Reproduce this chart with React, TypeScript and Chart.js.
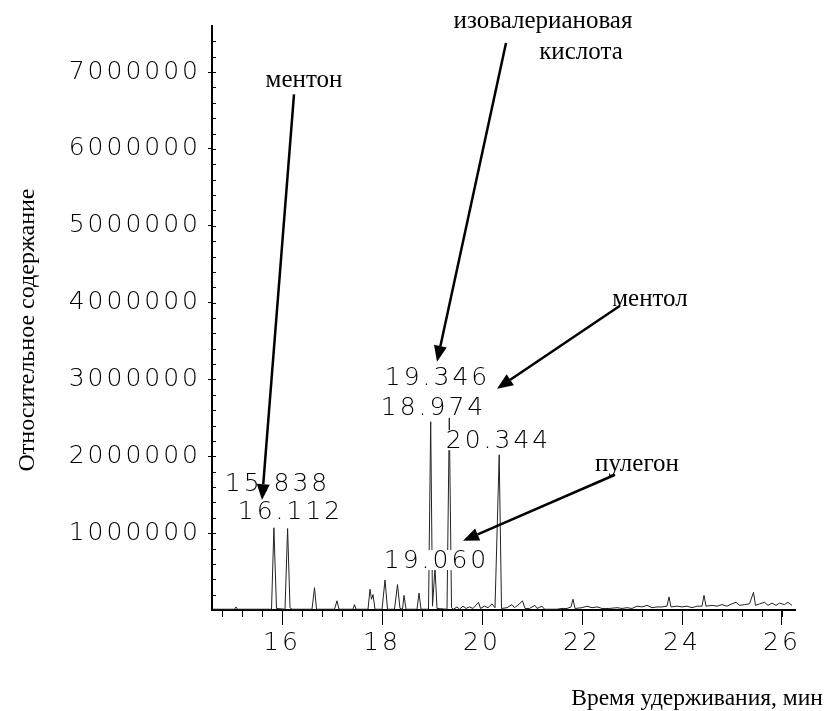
import React, { useEffect, useRef } from 'react';
import { Chart, registerables } from 'chart.js';

Chart.register(...registerables);

// Chromatogram trace: retention time (min) and abundance
const retentionTime = [
  14.62, 15.05, 15.08, 15.11, 15.79, 15.838, 15.89, 16.06, 16.112, 16.16, 16.2,
  16.6, 16.65, 16.69, 17.05, 17.1, 17.14, 17.42, 17.45, 17.48,
  17.72, 17.76, 17.79, 17.82, 17.86, 18.0, 18.06, 18.11,
  18.25, 18.31, 18.36, 18.41, 18.44, 18.48, 18.7, 18.74, 18.78,
  18.93, 18.974, 19.01, 19.06, 19.1, 19.3, 19.346, 19.39, 19.43,
  19.5, 19.55, 19.62, 19.68, 19.75, 19.82, 19.93, 19.97, 20.05, 20.12, 20.2, 20.26,
  20.344, 20.39, 20.5, 20.6, 20.65, 20.75, 20.81, 20.86, 20.95, 21.06, 21.1, 21.2, 21.25,
  21.5, 21.6, 21.7, 21.78, 21.82, 21.86, 22.0, 22.1, 22.2, 22.3, 22.4, 22.55, 22.7, 22.8,
  22.9, 23.0, 23.1, 23.2, 23.3, 23.4, 23.5, 23.6, 23.7, 23.74, 23.78, 23.9, 24.0, 24.1,
  24.2, 24.3, 24.4, 24.44, 24.48, 24.6, 24.7, 24.8, 24.9, 25.0, 25.08, 25.15, 25.25,
  25.35, 25.43, 25.47, 25.55, 25.65, 25.72, 25.8, 25.88, 25.95, 26.05, 26.12, 26.2,
];
const abundance = [
  10000, 10000, 40000, 10000, 10000, 1070000, 20000, 10000, 1060000, 30000, 10000,
  10000, 290000, 10000, 10000, 120000, 10000, 10000, 70000, 10000,
  10000, 270000, 140000, 200000, 10000, 10000, 390000, 10000,
  10000, 330000, 20000, 10000, 190000, 10000, 10000, 220000, 10000,
  10000, 2450000, 50000, 550000, 20000, 10000, 2500000, 30000, 10000,
  40000, 10000, 50000, 20000, 40000, 20000, 100000, 20000, 50000, 30000, 80000, 30000,
  2020000, 20000, 30000, 70000, 30000, 80000, 120000, 20000, 20000, 60000, 20000, 50000, 10000,
  10000, 20000, 20000, 40000, 140000, 20000, 30000, 50000, 30000, 40000, 20000, 20000, 30000, 20000,
  30000, 20000, 50000, 40000, 60000, 30000, 40000, 40000, 50000, 170000, 40000, 50000, 40000, 50000,
  30000, 50000, 50000, 190000, 50000, 60000, 50000, 70000, 50000, 80000, 100000, 60000, 70000,
  80000, 230000, 60000, 80000, 100000, 60000, 90000, 60000, 90000, 70000, 100000, 60000,
];

const xTickValues = [16, 18, 20, 22, 24, 26];
const yTickValues = [1000000, 2000000, 3000000, 4000000, 5000000, 6000000, 7000000];

const xAxisTitle = 'Время удерживания, мин';
const yAxisTitle = 'Относительное содержание';

// Peak retention-time labels
const peakLabels = ['15.838', '16.112', '19.346', '18.974', '20.344', '19.060'];
const peakLabelTime = [15.88, 16.14, 19.08, 19.0, 20.3, 19.06];
const peakLabelLevel = [1650000, 1280000, 3020000, 2640000, 2210000, 650000];

// Compound names
const compoundNames = ['ментон', 'изовалериановая', 'кислота', 'ментол', 'пулегон'];
const compoundTime = [16.44, 21.22, 21.98, 23.36, 23.1];
const compoundLevel = [6810000, 7570000, 7170000, 3950000, 1810000];

// Arrows from names to peaks
const arrowFromTime = [16.24, 20.48, 22.76, 22.66];
const arrowFromLevel = [6710000, 7380000, 3960000, 1760000];
const arrowToTime = [15.6, 19.1, 20.3, 19.62];
const arrowToLevel = [1430000, 3230000, 2880000, 900000];

const TICK_FONT = '200 25px "DejaVu Sans"';
const SERIF_FONT = '25px "Liberation Serif"';
const TITLE_FONT = '23.5px "Liberation Serif"';

const overlayPlugin = {
  id: 'overlay',
  beforeDraw(chart: any) {
    (chart.ctx as any).letterSpacing = '3px';
  },
  afterDatasetsDraw(chart: any) {
    const ctx = chart.ctx as any;
    const xs = chart.scales.x;
    const ys = chart.scales.y;
    const area = chart.chartArea;
    ctx.save();
    // minor ticks
    ctx.strokeStyle = '#000';
    ctx.lineWidth = 1;
    ctx.beginPath();
    for (let v = 200000; v < ys.max; v += 200000) {
      const py = Math.round(ys.getPixelForValue(v)) + 0.5;
      ctx.moveTo(area.left, py);
      ctx.lineTo(area.left + 4, py);
    }
    for (let k = Math.ceil(xs.min / 0.4); k * 0.4 <= xs.max; k++) {
      const v = k * 0.4;
      const px = Math.round(xs.getPixelForValue(v)) + 0.5;
      ctx.moveTo(px, area.bottom);
      ctx.lineTo(px, area.bottom + 7);
    }
    ctx.stroke();

    // peak labels with white background
    ctx.letterSpacing = '3px';
    ctx.font = TICK_FONT;
    ctx.textAlign = 'center';
    ctx.textBaseline = 'middle';
    peakLabels.forEach((t, i) => {
      const px = xs.getPixelForValue(peakLabelTime[i]);
      const py = ys.getPixelForValue(peakLabelLevel[i]);
      const w = ctx.measureText(t).width;
      ctx.fillStyle = '#fff';
      ctx.fillRect(px - w / 2, py - 10, w, 20);
      ctx.fillStyle = '#000';
      ctx.fillText(t, px + 1.5, py + 1);
    });

    // compound names
    ctx.letterSpacing = '0px';
    ctx.font = SERIF_FONT;
    ctx.textBaseline = 'alphabetic';
    ctx.fillStyle = '#000';
    compoundNames.forEach((t, i) => {
      ctx.fillText(t, xs.getPixelForValue(compoundTime[i]), ys.getPixelForValue(compoundLevel[i]));
    });

    // arrows
    ctx.lineWidth = 2.5;
    arrowFromTime.forEach((_, i) => {
      const x1 = xs.getPixelForValue(arrowFromTime[i]);
      const y1 = ys.getPixelForValue(arrowFromLevel[i]);
      const x2 = xs.getPixelForValue(arrowToTime[i]);
      const y2 = ys.getPixelForValue(arrowToLevel[i]);
      const ang = Math.atan2(y2 - y1, x2 - x1);
      const hl = 16;
      const hw = 6.5;
      const bx = x2 - hl * Math.cos(ang);
      const by = y2 - hl * Math.sin(ang);
      ctx.beginPath();
      ctx.moveTo(x1, y1);
      ctx.lineTo(bx, by);
      ctx.stroke();
      ctx.beginPath();
      ctx.moveTo(x2, y2);
      ctx.lineTo(bx + hw * Math.sin(ang), by - hw * Math.cos(ang));
      ctx.lineTo(bx - hw * Math.sin(ang), by + hw * Math.cos(ang));
      ctx.closePath();
      ctx.fill();
    });

    // axis titles
    ctx.font = TITLE_FONT;
    ctx.textAlign = 'center';
    ctx.fillText(xAxisTitle, 697, 705);
    ctx.font = '24px "Liberation Serif"';
    ctx.translate(34, 330);
    ctx.rotate(-Math.PI / 2);
    ctx.fillText(yAxisTitle, 0, 0);
    ctx.restore();
  },
};

export default function App() {
  const canvasRef = useRef<HTMLCanvasElement | null>(null);

  useEffect(() => {
    if (!canvasRef.current) return;
    const points = retentionTime.map((t, i) => ({ x: t, y: abundance[i] }));
    const chart = new Chart(canvasRef.current, {
      type: 'line',
      data: {
        datasets: [
          {
            data: points,
            borderColor: '#222',
            borderWidth: 1,
            pointRadius: 0,
            tension: 0,
            fill: false,
          },
        ],
      },
      options: {
        animation: false,
        responsive: false,
        devicePixelRatio: 1,
        layout: { padding: { left: 0, right: 32, top: 26, bottom: 0 } },
        plugins: { legend: { display: false }, tooltip: { enabled: false } },
        scales: {
          x: {
            type: 'linear',
            min: 14.6,
            max: 26.26,
            afterFit: (s: any) => {
              s.height = 101;
            },
            afterBuildTicks: (s: any) => {
              s.ticks = xTickValues.map((v) => ({ value: v }));
            },
            grid: {
              display: true,
              drawOnChartArea: false,
              tickLength: 15,
              tickColor: '#000',
              tickWidth: 1,
            },
            border: { display: true, color: '#000', width: 2 },
            ticks: {
              autoSkip: false,
              maxRotation: 0,
              minRotation: 0,
              padding: 3,
              color: '#000',
              font: { family: 'DejaVu Sans', size: 25, weight: '200' },
              callback: (v: any) => String(v),
            },
          },
          y: {
            type: 'linear',
            min: 0,
            max: 7600000,
            afterFit: (s: any) => {
              s.width = 212;
            },
            afterBuildTicks: (s: any) => {
              s.ticks = yTickValues.map((v) => ({ value: v }));
            },
            grid: {
              display: true,
              drawOnChartArea: false,
              tickLength: 4,
              tickColor: '#000',
              tickWidth: 1,
            },
            border: { display: true, color: '#000', width: 2 },
            ticks: {
              padding: 7,
              color: '#000',
              font: { family: 'DejaVu Sans', size: 25, weight: '200' },
              callback: (v: any) => String(v),
            },
          },
        },
      },
      plugins: [overlayPlugin],
    });
    return () => chart.destroy();
  }, []);

  return (
    <div style={{ position: 'absolute', left: 0, top: 0, width: 827, height: 711, background: '#fff' }}>
      <canvas ref={canvasRef} width={827} height={711} />
    </div>
  );
}
